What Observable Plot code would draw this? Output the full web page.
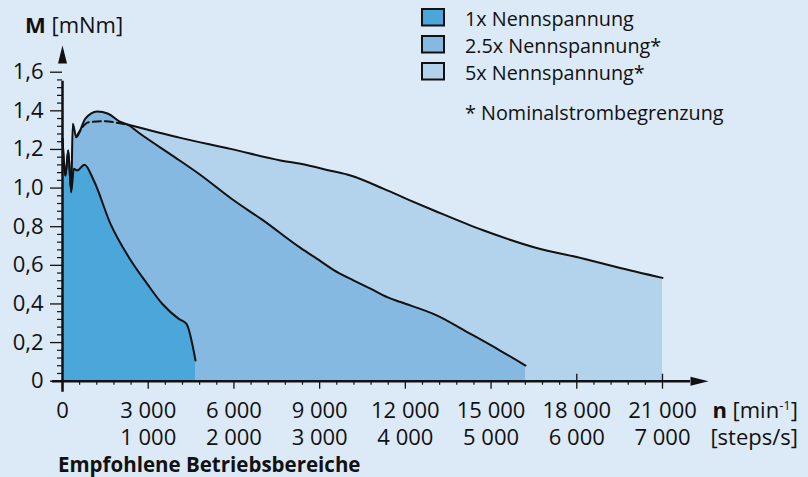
<!DOCTYPE html>
<html>
<head>
<meta charset="utf-8">
<script src="https://cdn.jsdelivr.net/npm/d3@7"></script>
<script src="https://cdn.jsdelivr.net/npm/@observablehq/plot@0.6"></script>
<style>
  html, body { margin: 0; padding: 0; background: #dce9f6; }
  #wrap { position: relative; width: 808px; height: 477px; overflow: hidden; background: #dce9f6; font-family: "Open Sans", sans-serif; color: #111; }
  #wrap svg { position: absolute; left: 0; top: 0; }
</style>
</head>
<body>
<div id="wrap"></div>
<script>
// ---- data ----
const seriesNames = ["1x Nennspannung", "2.5x Nennspannung*", "5x Nennspannung*"];
const seriesFills = ["#4ba6da", "#85b9e2", "#b3d3ec"];

// 1x Nennspannung: speed n [min^-1], torque M [mNm]
const rpm1 = [0, 10, 105, 200, 305, 395, 510, 770, 1095, 1680, 2320, 2965, 3490, 4070, 4340, 4655];
const m1   = [1.255, 1.229, 1.065, 1.195, 0.979, 1.10, 1.091, 1.121, 1.039, 0.815, 0.642, 0.504, 0.401, 0.323, 0.297, 0.107];

// 2.5x Nennspannung*
const rpm25 = [0, 10, 105, 200, 305, 360, 480, 800, 1215, 1600, 2030, 2275, 2730, 3900, 4830, 5940, 7000, 8330, 9030, 9495, 10200, 10780, 11365, 11830, 13115, 14280, 15300, 16205];
const m25   = [1.255, 1.229, 1.065, 1.195, 0.979, 1.333, 1.264, 1.36, 1.397, 1.385, 1.342, 1.329, 1.28, 1.163, 1.068, 0.942, 0.835, 0.69, 0.622, 0.575, 0.521, 0.479, 0.435, 0.41, 0.340, 0.245, 0.16, 0.081];

// 5x Nennspannung*
const rpm5 = [0, 10, 105, 200, 305, 360, 480, 920, 1505, 2090, 2275, 4130, 5880, 7630, 8330, 9380, 10080, 11245, 12180, 13000, 14745, 16500, 18245, 19415, 21000];
const m5   = [1.255, 1.229, 1.065, 1.195, 0.979, 1.333, 1.264, 1.341, 1.346, 1.333, 1.329, 1.26, 1.203, 1.143, 1.126, 1.09, 1.065, 0.996, 0.935, 0.884, 0.780, 0.694, 0.634, 0.590, 0.535];
const dashStart = 480, dashEnd = 2275; // "Nominalstrombegrenzung" dashed section of 5x

// ticks
const yTicks = [0, 0.2, 0.4, 0.6, 0.8, 1.0, 1.2, 1.4, 1.6];
const xTicks = [0, 3000, 6000, 9000, 12000, 15000, 18000, 21000];
const stepTicks = [1000, 2000, 3000, 4000, 5000, 6000, 7000]; // steps/s (1 step/s = 3 min^-1)
const xTopTicks = [18000, 21000];

// ---- helpers ----
const toRows = (xs, ys) => xs.map((x, i) => ({x, y: ys[i]}));
const d1 = toRows(rpm1, m1), d25 = toRows(rpm25, m25), d5 = toRows(rpm5, m5);
const d5dash = d5.filter(d => d.x >= dashStart && d.x <= dashEnd);
const d5solid = d5.filter(d => d.x >= dashEnd);
const fmtK = v => d3.format(",")(v).replace(/,/g, " ");
const fmtY = v => v === 0 ? "0" : v.toFixed(1).replace(".", ",");
const minorY = d3.range(1, 41).filter(i => i % 5 !== 0).map(i => i * 0.04);
const minorX = d3.range(1, 36).filter(i => i % 5 !== 0).map(i => i * 600);

const arrowSymbol = { draw(ctx) { ctx.moveTo(0, 0); ctx.lineTo(-18, -4.5); ctx.lineTo(-18, 4.5); ctx.closePath(); } };

const W = 808, H = 477;
const mL = 62, mR = 146, mT = 71.7, mB = 96.3;
const pxX = (21000) / (W - mL - mR); // rpm per px
const pxY = 1.6 / (H - mT - mB);     // M per px
const FS = 22;

const chart = Plot.plot({
  width: W, height: H,
  marginLeft: mL, marginRight: mR, marginTop: mT, marginBottom: mB,
  x: {domain: [0, 21000]},
  y: {domain: [0, 1.6]},
  style: {background: "transparent", fontFamily: "Open Sans", color: "#111", overflow: "visible"},
  marks: [
    Plot.areaY(d5, {x: "x", y: "y", fill: seriesFills[2], curve: "monotone-x"}),
    Plot.areaY(d25, {x: "x", y: "y", fill: seriesFills[1], curve: "monotone-x"}),
    Plot.areaY(d1, {x: "x", y: "y", fill: seriesFills[0], curve: "monotone-x"}),
    // curves
    Plot.line(d1, {x: "x", y: "y", stroke: "#111", strokeWidth: 2, curve: "monotone-x"}),
    Plot.line(d25, {x: "x", y: "y", stroke: "#111", strokeWidth: 2, curve: "monotone-x"}),
    Plot.line(d5solid, {x: "x", y: "y", stroke: "#111", strokeWidth: 2, curve: "monotone-x"}),
    Plot.line(d5dash, {x: "x", y: "y", stroke: "#111", strokeWidth: 2, strokeDasharray: "8,4", curve: "monotone-x"}),
    // axes
    Plot.axisY(yTicks, {tickSize: 12, tickPadding: 7, tickFormat: fmtY, fontSize: FS, strokeWidth: 1.3, label: null}),
    Plot.axisY(minorY, {tickSize: 5, tickFormat: () => "", strokeWidth: 1.2, label: null}),
    Plot.axisX(xTicks, {tickSize: 8, tickPadding: 13, tickFormat: fmtK, fontSize: FS, strokeWidth: 1.3, label: null}),
    Plot.axisX(minorX, {tickSize: 4, tickFormat: () => "", strokeWidth: 1.2, label: null}),
    Plot.axisX(stepTicks.map(s => s * 3), {tickSize: 0, tickPadding: 48.5, tickFormat: d => fmtK(d / 3), fontSize: FS, label: null}),
    Plot.ruleX(xTopTicks, {y1: 0, y2: 7 * pxY, stroke: "#111", strokeWidth: 1.3}),
    Plot.ruleY([0], {x1: -10 * pxX, x2: 628 * pxX, stroke: "#111", strokeWidth: 2.5}),
    Plot.ruleX([0], {y1: -11 * pxY, y2: 300 * pxY, stroke: "#111", strokeWidth: 2.5}),
    Plot.dot([{x: 646 * pxX, y: 0}], {x: "x", y: "y", symbol: arrowSymbol, r: 5, fill: "#111", stroke: null}),
    Plot.dot([{x: 0, y: (H - mB - 45) * pxY}], {x: "x", y: "y", symbol: arrowSymbol, r: 5, fill: "#111", stroke: null, rotate: -90})
  ]
});

const wrap = document.getElementById("wrap");
wrap.appendChild(chart);

// ---- overlay: axis titles, legend, caption ----
const ov = d3.select(wrap).append("svg")
  .attr("width", W).attr("height", H)
  .style("font-family", "'Open Sans', sans-serif")
  .attr("fill", "#111");

// y-axis title
const yt = ov.append("text").attr("x", 25).attr("y", 33).attr("font-size", FS);
yt.append("tspan").attr("font-weight", "bold").text("M");
yt.append("tspan").text(" [mNm]");

// x-axis titles
const xt = ov.append("text").attr("x", 798).attr("y", 417.5).attr("font-size", FS).attr("text-anchor", "end");
xt.append("tspan").attr("font-weight", "bold").text("n");
xt.append("tspan").text(" [min");
xt.append("tspan").attr("font-size", 13).attr("dy", -8).text("-1");
xt.append("tspan").attr("dy", 8).text("]");
ov.append("text").attr("x", 798).attr("y", 445).attr("font-size", FS).attr("text-anchor", "end").text("[steps/s]");

// legend
const legBase = [26, 53, 80];
seriesNames.forEach((name, i) => {
  ov.append("rect").attr("x", 422).attr("y", legBase[i] - 17).attr("width", 22).attr("height", 16.5)
    .attr("fill", seriesFills[i]).attr("stroke", "#111").attr("stroke-width", 2);
  ov.append("text").attr("x", 465).attr("y", legBase[i]).attr("font-size", 19.8).text(name);
});
ov.append("text").attr("x", 465).attr("y", 120).attr("font-size", 19.8).text("* Nominalstrombegrenzung");

// caption
ov.append("text").attr("x", 58).attr("y", 471.5).attr("font-size", 20.5).attr("font-weight", "bold").text("Empfohlene Betriebsbereiche");
</script>
</body>
</html>
